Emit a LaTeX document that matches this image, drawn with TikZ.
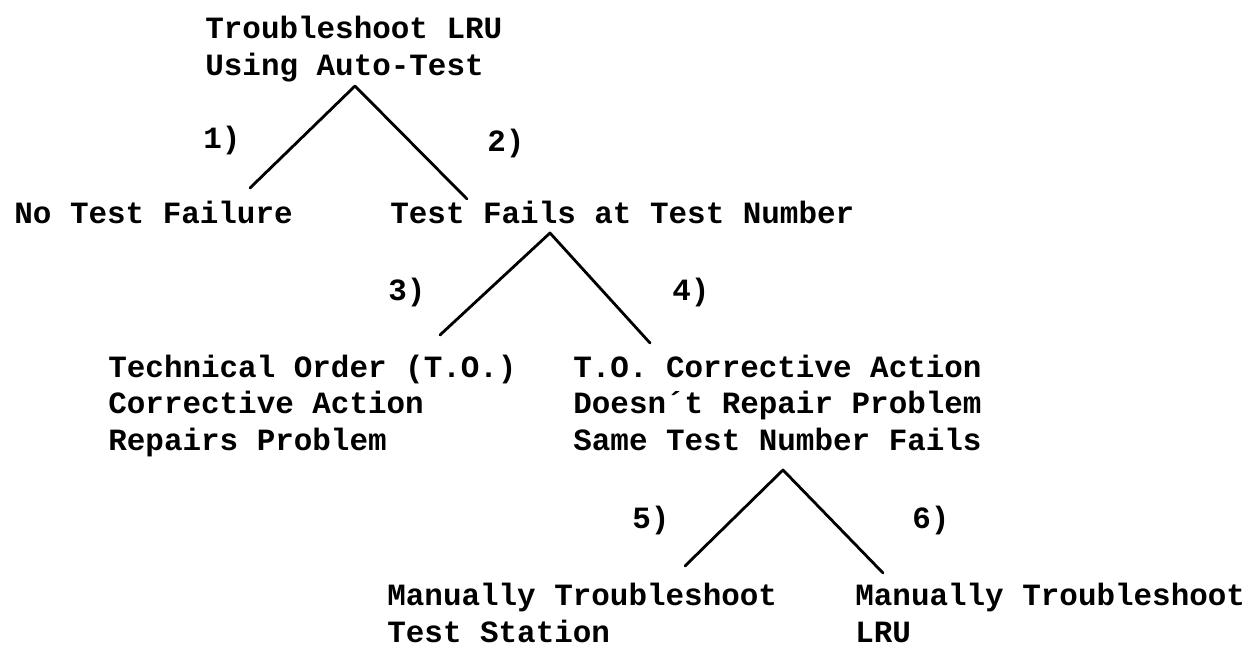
\documentclass[tikz,border=0pt]{standalone}
\usepackage{fontspec}
\setmonofont{Liberation Mono}
\usepackage{tikz}

\tikzset{
	txt/.style={anchor=base west, inner sep=0pt, align=left,
		font=\ttfamily\bfseries\fontsize{17.6}{20.7}\selectfont},
	branch/.style={line width=1.6pt, line cap=round, line join=round}
}

\begin{document}
\begin{tikzpicture}[x=0.02cm, y=-0.02cm]
		\useasboundingbox (0,0) rectangle (1248,646);
		% Text blocks (placed at the baseline of their last line):
		\node[txt] (root) at (205,75) {Troubleshoot LRU\\Using Auto-Test};
		\node[txt] (nofail) at (14,223) {No Test Failure};
		\node[txt] (fails) at (390,223) {Test Fails at Test Number};
		\node[txt] (repairs) at (108,450) {Technical Order (T.O.)\\Corrective Action\\Repairs Problem};
		\node[txt] (norepair) at (573,450) {T.O. Corrective Action\\Doesn´t Repair Problem\\Same Test Number Fails};
		\node[txt] (station) at (387,642) {Manually Troubleshoot\\Test Station};
		\node[txt] (lru) at (855,642) {Manually Troubleshoot\\LRU};
		% Branch numbers:
		\node[txt] (n1) at (203,148) {1)};
		\node[txt] (n2) at (487,151) {2)};
		\node[txt] (n3) at (388,300) {3)};
		\node[txt] (n4) at (672,300) {4)};
		\node[txt] (n5) at (632,528) {5)};
		\node[txt] (n6) at (912,528) {6)};
		% Branch points:
		\coordinate (top1) at (355,86);
		\coordinate (end1) at (250,188);
		\coordinate (end2) at (467,199);
		\coordinate (top2) at (550,233);
		\coordinate (end3) at (440,335);
		\coordinate (end4) at (650,343);
		\coordinate (top3) at (783,470);
		\coordinate (end5) at (685,566);
		\coordinate (end6) at (883,573);
		% Branches:
		\draw[branch] (end1) -- (top1) -- (end2);
		\draw[branch] (end3) -- (top2) -- (end4);
		\draw[branch] (end5) -- (top3) -- (end6);
	\end{tikzpicture}
\end{document}
